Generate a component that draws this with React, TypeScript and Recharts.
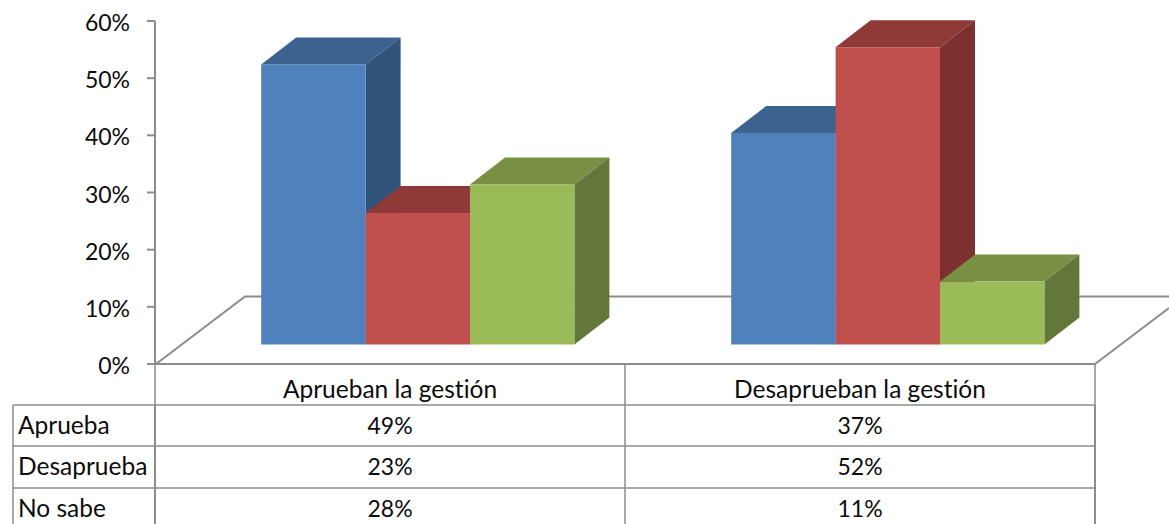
import React from 'react';
import { BarChart, Bar, XAxis, YAxis } from 'recharts';

const categories = ['Aprueban la gestión', 'Desaprueban la gestión'];
const aprueba = [49, 37];
const desaprueba = [23, 52];
const noSabe = [28, 11];
const yTicks = [0, 10, 20, 30, 40, 50, 60];

const seriesNames = ['Aprueba', 'Desaprueba', 'No sabe'];
const seriesValues = [aprueba, desaprueba, noSabe];

const chartData = categories.map((name, i) => ({
  name,
  aprueba: aprueba[i],
  desaprueba: desaprueba[i],
  noSabe: noSabe[i],
}));

const FONT = 'Lato, Carlito, sans-serif';
const GRID = '#8c8c8c';
const TEXT = '#0c0c0c';
const NUM_SIZE = 23;
const LABEL_SIZE = 24.5;

// 3D look: front face is moved off the axis, top and side faces added
const SHIFT_X = 28.2;
const SHIFT_Y = -19.5;
const DEPTH_X = 35;
const DEPTH_Y = -27;

function Box3D(props: any) {
  const { x, y, width, height, front, top, side } = props;
  const l = x + SHIFT_X;
  const r = l + width;
  const t = y + SHIFT_Y;
  const b = t + height;
  return (
    <g>
      <polygon
        points={`${l},${t} ${l + DEPTH_X},${t + DEPTH_Y} ${r + DEPTH_X},${t + DEPTH_Y} ${r},${t}`}
        fill={top}
      />
      <polygon
        points={`${r},${t} ${r + DEPTH_X},${t + DEPTH_Y} ${r + DEPTH_X},${b + DEPTH_Y} ${r},${b}`}
        fill={side}
      />
      <rect x={l} y={t} width={width} height={height} fill={front} />
    </g>
  );
}

function Floor() {
  return (
    <svg width={1169} height={524} style={{ position: 'absolute', left: 0, top: 0 }}>
      <polyline points="156,364 245,296.5 1169,296.5" fill="none" stroke={GRID} strokeWidth={2} />
      <line x1={1095} y1={364} x2={1169} y2={308} stroke={GRID} strokeWidth={2} />
    </svg>
  );
}

function DataTable() {
  const rowTops = [405, 446, 488];
  const colCenters = [390, 860];
  return (
    <svg width={1169} height={524} style={{ position: 'absolute', left: 0, top: 0 }}>
      <line x1={155} y1={364} x2={155} y2={405} stroke={GRID} strokeWidth={1.5} />
      <line x1={625} y1={364} x2={625} y2={524} stroke={GRID} strokeWidth={1.5} />
      <line x1={1095} y1={364} x2={1095} y2={405} stroke={GRID} strokeWidth={1.5} />
      <line x1={155} y1={405} x2={155} y2={524} stroke={GRID} strokeWidth={2} />
      <line x1={1095} y1={405} x2={1095} y2={524} stroke={GRID} strokeWidth={2} />
      <line x1={13} y1={405} x2={13} y2={524} stroke={GRID} strokeWidth={1.5} />
      {rowTops.map((y) => (
        <line key={y} x1={13} y1={y} x2={1095} y2={y} stroke={GRID} strokeWidth={1.5} />
      ))}
      {seriesNames.map((name, row) => (
        <g key={name} fontFamily={FONT} fill={TEXT}>
          <text x={18} y={rowTops[row] + 28.5} fontSize={LABEL_SIZE}>{name}</text>
          {colCenters.map((cx, col) => (
            <text key={cx} x={cx} y={rowTops[row] + 28.5} fontSize={NUM_SIZE} textAnchor="middle">
              {seriesValues[row][col]}%
            </text>
          ))}
        </g>
      ))}
    </svg>
  );
}

export default function App() {
  return (
    <div style={{ position: 'absolute', left: 0, top: 0, width: 1169, height: 524, overflow: 'hidden', background: '#fff', fontVariantLigatures: 'none' }}>
      <Floor />
      <div style={{ position: 'absolute', left: 0, top: 0 }}>
        <BarChart
          width={1169}
          height={524}
          data={chartData}
          margin={{ top: 21, right: 74, bottom: 119, left: 95 }}
          barSize={104.4}
          barGap={0}
        >
          <XAxis
            dataKey="name"
            height={41}
            axisLine={{ stroke: GRID, strokeWidth: 2 }}
            tickLine={false}
            tickMargin={11}
            tick={{ fontFamily: FONT, fontSize: LABEL_SIZE, fill: TEXT }}
          />
          <YAxis
            width={60}
            domain={[0, 60]}
            ticks={yTicks}
            interval={0}
            tickFormatter={(v: number) => `${v}%`}
            axisLine={{ stroke: GRID, strokeWidth: 2 }}
            tickLine={{ stroke: GRID, strokeWidth: 2 }}
            tickSize={8}
            tickMargin={17}
            tick={{ fontFamily: FONT, fontSize: NUM_SIZE, fill: TEXT, dy: 2 }}
          />
          <Bar
            dataKey="aprueba"
            isAnimationActive={false}
            shape={(p: any) => <Box3D {...p} front="#4f81bd" top="#3c6390" side="#32547a" />}
          />
          <Bar
            dataKey="desaprueba"
            isAnimationActive={false}
            shape={(p: any) => <Box3D {...p} front="#c0504d" top="#8f3a38" side="#7c302f" />}
          />
          <Bar
            dataKey="noSabe"
            isAnimationActive={false}
            shape={(p: any) => <Box3D {...p} front="#9bbb59" top="#788f44" side="#64773a" />}
          />
        </BarChart>
      </div>
      <DataTable />
    </div>
  );
}
